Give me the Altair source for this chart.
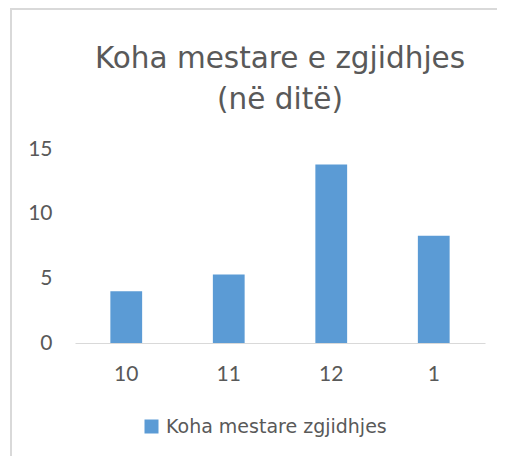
import altair as alt
import pandas as pd

categories = ["10", "11", "12", "1"]
values = [4.0, 5.3, 13.8, 8.3]
series_name = "Koha mestare zgjidhjes"
title_lines = ["Koha mestare e zgjidhjes", "(në ditë)"]
y_ticks = [0, 5, 10, 15]

df = pd.DataFrame({"cat": categories, "val": values, "series": [series_name] * len(categories)})

TXT = "#595959"
GRID = "#D9D9D9"
FONT = "Lato"
WIDE = "DejaVu Sans"

bars = alt.Chart(df).mark_bar(color="#5B9BD5").encode(
    x=alt.X("cat:N", sort=categories,
            scale=alt.Scale(paddingInner=0.69, paddingOuter=0.345),
            axis=alt.Axis(title=None, labelAngle=0, ticks=False, tickSize=0,
                          labelPadding=20, labelFontSize=21, labelFont=FONT,
                          labelColor=TXT, domainColor=GRID, domainWidth=1,
                          grid=False, labelBaseline="top")),
    y=alt.Y("val:Q", scale=alt.Scale(domain=[0, 15], nice=False),
            axis=alt.Axis(title=None, values=y_ticks, ticks=False, tickSize=0,
                          domain=False, grid=False, labelPadding=23,
                          labelFontSize=21, labelFont=FONT, labelColor=TXT)),
    color=alt.Color("series:N",
                    scale=alt.Scale(domain=[series_name], range=["#5B9BD5"]),
                    legend=alt.Legend(title=None, orient="none", legendX=67, legendY=268,
                                      symbolType="square", symbolSize=196,
                                      symbolStrokeWidth=0, labelFontSize=19,
                                      labelFont=WIDE, labelColor=TXT, labelLimit=400,
                                      labelOffset=5, padding=0)),
)

one = pd.DataFrame({"a": [0]})
left_border = alt.Chart(one).mark_rule(color=GRID, strokeWidth=2).encode(
    x=alt.value(-64), y=alt.value(-140), y2=alt.value(320))
top_border = alt.Chart(one).mark_rule(color=GRID, strokeWidth=2).encode(
    y=alt.value(-140), x=alt.value(-65), x2=alt.value(430))

chart = alt.layer(bars, left_border, top_border).properties(
    width=410, height=194,
    padding={"left": 67, "top": 141, "right": 12, "bottom": 113},
    autosize=alt.AutoSizeParams(type="none"),
    title=alt.TitleParams(text=title_lines, fontSize=29.5, font=WIDE, color=TXT,
                          fontWeight="normal", anchor="middle", lineHeight=41,
                          offset=-107),
).configure_view(stroke=None)

chart.save("out.html", embed_options={"renderer": "svg", "actions": False})
